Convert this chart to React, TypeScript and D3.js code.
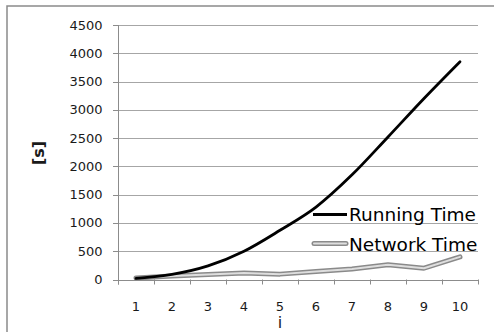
import React from "react";
import * as d3 from "d3";

const categories = ["1", "2", "3", "4", "5", "6", "7", "8", "9", "10"];
const runningTime = [20, 90, 240, 500, 870, 1280, 1850, 2520, 3200, 3850];
const networkTime = [25, 60, 90, 115, 95, 140, 185, 260, 200, 400];
const yTicks = [0, 500, 1000, 1500, 2000, 2500, 3000, 3500, 4000, 4500];
const seriesNames = ["Running Time", "Network Time"];

const W = 494;
const H = 332;
const plotLeft = 118;
const plotRight = 478;
const plotTop = 25;
const plotBottom = 279.5;
const FONT = "DejaVu Sans, sans-serif";

export default function App() {
  const x = d3.scaleBand<string>().domain(categories).range([plotLeft, plotRight]);
  const y = d3.scaleLinear().domain([0, 4500]).range([plotBottom, plotTop]);
  const cx = (c: string) => (x(c) as number) + x.bandwidth() / 2;

  const runLine = d3
    .line<number>()
    .x((_, i) => cx(categories[i]))
    .y((d) => y(d))
    .curve(d3.curveCatmullRom.alpha(0));
  const netLine = d3
    .line<number>()
    .x((_, i) => cx(categories[i]))
    .y((d) => y(d));

  const boundaries = categories.map((c) => x(c) as number).concat([plotRight]);

  return (
    <svg
      width={W}
      height={H}
      style={{ position: "absolute", left: 0, top: 0, background: "#fff" }}
      fontFamily={FONT}
    >
      <rect x={7} y={6} width={W + 20} height={H + 20} fill="#fff" stroke="#8a8a8a" strokeWidth={1.5} />
      {yTicks.map((t) => (
        <line key={"g" + t} x1={plotLeft} x2={plotRight} y1={Math.round(y(t)) + 0.5} y2={Math.round(y(t)) + 0.5} stroke="#a6a6a6" strokeWidth={1} />
      ))}
      <line x1={plotLeft + 0.5} x2={plotLeft + 0.5} y1={plotTop} y2={plotBottom + 5} stroke="#8c8c8c" />
      {yTicks.map((t) => (
        <line key={"yt" + t} x1={plotLeft - 5} x2={plotLeft} y1={Math.round(y(t)) + 0.5} y2={Math.round(y(t)) + 0.5} stroke="#8c8c8c" />
      ))}
      {yTicks.map((t) => (
        <text key={"yl" + t} x={102.5} y={y(t) + 4.5} textAnchor="end" fontSize={13} fill="#1a1a1a">
          {t}
        </text>
      ))}
      <line x1={plotLeft} x2={plotRight} y1={Math.round(plotBottom) + 0.5} y2={Math.round(plotBottom) + 0.5} stroke="#8c8c8c" />
      {boundaries.map((b, i) => (
        <line key={"xt" + i} x1={Math.round(b) + 0.5} x2={Math.round(b) + 0.5} y1={plotBottom} y2={plotBottom + 5} stroke="#8c8c8c" />
      ))}
      {categories.map((c) => (
        <text key={"xl" + c} x={cx(c)} y={311} textAnchor="middle" fontSize={13} fill="#1a1a1a">
          {c}
        </text>
      ))}
      <text x={280} y={328} textAnchor="middle" fontSize={16} fill="#1a1a1a">
        i
      </text>
      <text
        transform="translate(44,153) rotate(-90)"
        textAnchor="middle"
        fontSize={16}
        fontWeight="bold"
        fill="#1a1a1a"
      >
        [s]
      </text>
      <path d={netLine(networkTime) || ""} fill="none" stroke="#8a8a8a" strokeWidth={5} strokeLinejoin="round" strokeLinecap="round" />
      <path d={netLine(networkTime) || ""} fill="none" stroke="#dedede" strokeWidth={2} strokeLinejoin="round" strokeLinecap="round" />
      <path d={runLine(runningTime) || ""} fill="none" stroke="#000" strokeWidth={2.8} strokeLinecap="round" />
      <line x1={313} x2={347} y1={214.5} y2={214.5} stroke="#000" strokeWidth={2.8} />
      <text x={349} y={220.5} fontSize={18.5} fill="#000">
        {seriesNames[0]}
      </text>
      <line x1={314} x2={346} y1={243.5} y2={243.5} stroke="#8a8a8a" strokeWidth={5} strokeLinecap="round" />
      <line x1={314} x2={346} y1={243.5} y2={243.5} stroke="#dedede" strokeWidth={2} strokeLinecap="round" />
      <text x={349} y={250.5} fontSize={18.5} fill="#000">
        {seriesNames[1]}
      </text>
    </svg>
  );
}
